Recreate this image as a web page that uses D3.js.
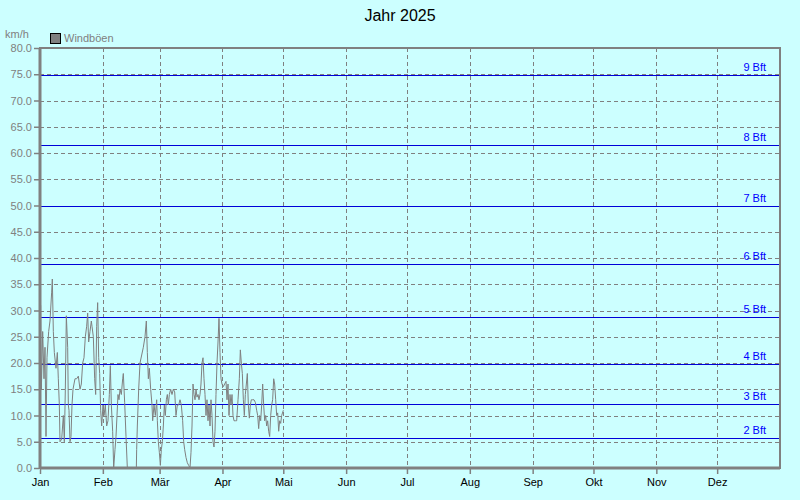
<!DOCTYPE html>
<html><head><meta charset="utf-8">
<script src="https://cdn.jsdelivr.net/npm/d3@7"></script>
<style>html,body{margin:0;padding:0;background:#ccffff;}svg{display:block;}</style>
</head><body>
<script>
const title = "Jahr 2025";
const unitLabel = "km/h";
const seriesName = "Windböen";
const monthLabels = ["Jan","Feb","Mär","Apr","Mai","Jun","Jul","Aug","Sep","Okt","Nov","Dez"];
const monthStarts = [0,31,59,90,120,151,181,212,243,273,304,334];
const yTicks = [0,5,10,15,20,25,30,35,40,45,50,55,60,65,70,75,80];
const bftLabels = ["2 Bft","3 Bft","4 Bft","5 Bft","6 Bft","7 Bft","8 Bft","9 Bft"];
const bftValues = [5.8,12.2,19.8,28.8,38.8,50.0,61.5,74.9];
const days = [0.33,0.66,0.99,1.32,1.97,2.47,2.96,3.45,4.27,4.93,5.75,6.08,6.58,7.07,7.89,8.55,9.04,9.54,9.87,10.69,11.51,12.0,12.5,12.99,13.65,13.98,14.3,14.8,15.29,15.78,16.28,16.77,17.26,18.09,18.91,19.73,20.39,21.05,21.7,22.36,23.02,23.51,24.0,24.66,25.32,25.65,26.31,26.96,27.46,27.95,28.44,28.94,29.43,29.92,30.42,31.08,31.57,32.23,32.88,33.54,34.2,34.69,35.19,35.84,36.34,36.99,37.49,37.98,38.47,38.97,39.46,40.12,40.78,41.1,41.76,42.42,43.08,45.22,47.52,47.68,48.01,48.67,49.33,50.97,51.79,52.45,52.94,53.44,53.93,54.59,55.25,55.57,56.23,56.89,57.55,57.88,58.37,58.86,59.36,59.85,60.34,60.84,61.33,61.82,62.32,62.81,63.3,63.8,64.45,65.11,65.77,66.43,67.08,67.74,68.4,69.06,69.71,70.37,70.87,71.36,72.02,72.67,73.33,73.99,74.48,74.98,75.47,75.96,76.46,76.95,77.44,77.94,78.43,78.92,79.41,79.91,80.4,80.89,81.39,81.88,82.37,82.87,83.36,83.85,84.35,84.84,85.33,85.83,86.32,86.81,87.31,87.8,88.29,88.79,89.28,89.77,90.43,91.09,91.75,92.24,92.73,93.23,93.72,94.21,94.71,95.2,95.69,96.35,97.01,97.67,98.32,98.82,99.31,99.8,100.3,100.79,101.28,101.78,102.27,102.76,103.26,103.75,104.24,104.9,105.56,106.22,106.87,107.37,107.86,108.35,108.85,109.34,109.83,110.33,110.82,111.31,111.81,112.3,112.79,113.29,113.78,114.27,114.76,115.26,115.75,116.25,116.74,117.23,117.73,118.22,118.71,119.2,120.03];
const gusts = [31,15,20,26,17,23,6,21,26,28,33.5,36,26,22,19,22,17,12,5,5.5,10,5,15,29,23,12,11,5,6,12,15,16,17,17,17.5,15,16,20,21,25,27,29.5,24,26,28,27,25,17,14,27,31.5,21,18,11,8,12,10,12,8,9,14,19.5,12,7,0,3.5,6,10,14,13,15,14,17,18,12.5,6,0,0,0,3.5,8,15,20,23,25,28,22,17,19,15,12,9,12,10,13,9,5,3,0.5,3.5,5,8,12,10,13,14,12,14,15,14,15,14.5,10,12,12,13,12,9,5,3.5,2,1,0.5,0,3,8,16,14,13,15,13.5,14,13,14,16,20,21,17,14,10,13,9,12,8,13,10,5,4,7,14,20,24,28.5,22,17,16,15.5,16,16.5,13,16,10,14,12,14,10,9,9,9,13,17,22.5,20,18,13,10,14,16,18,12,9.5,12,13,13,13,12.5,11,10,7.5,10,9,12,16,12,9,10,8,9,7,6,10,12,13,17,16,13,10,10.5,7,9,8.5,10,11];

const W = 800, H = 500;
const m = {left:40, right:780, top:48, bottom:468};
const font = "'Liberation Sans', Arial, sans-serif";
const svg = d3.select("body").append("svg").attr("width", W).attr("height", H)
  .style("background", "#ccffff");

const x = d3.scaleLinear().domain([0,365]).range([m.left, m.right]);
const y = d3.scaleLinear().domain([0,80]).range([m.bottom, m.top]);

// horizontal dashed grid
svg.append("g").selectAll("line").data(yTicks.filter(v => v > 0 && v < 80)).join("line")
  .attr("x1", m.left).attr("x2", m.right)
  .attr("y1", d => Math.round(y(d)) + 0.5).attr("y2", d => Math.round(y(d)) + 0.5)
  .attr("stroke", "#808080").attr("stroke-dasharray", "4,3");
// vertical dashed grid
svg.append("g").selectAll("line").data(monthStarts.slice(1)).join("line")
  .attr("x1", d => Math.round(x(d)) + 0.5).attr("x2", d => Math.round(x(d)) + 0.5)
  .attr("y1", m.top).attr("y2", m.bottom)
  .attr("stroke", "#808080").attr("stroke-dasharray", "4,3");

// Beaufort lines
const bft = svg.append("g");
bft.selectAll("line").data(bftValues).join("line")
  .attr("x1", m.left).attr("x2", m.right)
  .attr("y1", d => Math.round(y(d)) + 0.5).attr("y2", d => Math.round(y(d)) + 0.5)
  .attr("stroke", "#0000d8").attr("stroke-width", 1);
bft.selectAll("text").data(bftValues).join("text")
  .attr("x", 766).attr("y", d => Math.round(y(d)) - 4)
  .attr("text-anchor", "end").attr("fill", "#0000ff")
  .style("font", "11px " + font)
  .text((d, i) => bftLabels[i]);

// data line
const line = d3.line().x((d, i) => x(days[i])).y(d => y(d));
svg.append("path").datum(gusts).attr("d", line)
  .attr("fill", "none").attr("stroke", "#808080").attr("stroke-width", 1);

// frame
svg.append("rect").attr("x", m.left).attr("y", m.top)
  .attr("width", m.right - m.left).attr("height", m.bottom - m.top)
  .attr("fill", "none").attr("stroke", "#808080").attr("stroke-width", 2);
svg.append("line").attr("x1", m.left).attr("x2", m.left).attr("y1", m.top).attr("y2", m.bottom + 1)
  .attr("stroke", "#808080").attr("stroke-width", 3);
svg.append("line").attr("x1", m.left).attr("x2", m.right).attr("y1", m.bottom).attr("y2", m.bottom)
  .attr("stroke", "#808080").attr("stroke-width", 3);

// y axis
const yAxis = d3.axisLeft(y).tickValues(yTicks).tickFormat(d3.format(".1f")).tickSize(5).tickPadding(2);
const gy = svg.append("g").attr("transform", `translate(${m.left - 1},0)`).call(yAxis);
gy.select(".domain").remove();
gy.selectAll("line").attr("stroke", "#808080").attr("stroke-width", 1.5);
gy.selectAll("text").attr("fill", "#808080").style("font", "11px " + font);

// x axis
const xAxis = d3.axisBottom(x).tickValues(monthStarts).tickFormat((d, i) => monthLabels[i]).tickSize(5).tickPadding(4);
const gx = svg.append("g").attr("transform", `translate(0,${m.bottom + 1})`).call(xAxis);
gx.select(".domain").remove();
gx.selectAll("line").attr("stroke", "#808080").attr("stroke-width", 1.5);
gx.selectAll("text").attr("fill", "#000").style("font", "11px " + font);

// labels
svg.append("text").attr("x", W / 2).attr("y", 21).attr("text-anchor", "middle")
  .attr("fill", "#000").style("font", "16px " + font).text(title);
svg.append("text").attr("x", 5).attr("y", 38).attr("fill", "#808080")
  .style("font", "11px " + font).text(unitLabel);
svg.append("rect").attr("x", 50.5).attr("y", 33.5).attr("width", 10).attr("height", 10)
  .attr("fill", "#808080").attr("stroke", "#000");
svg.append("text").attr("x", 64).attr("y", 42).attr("fill", "#808080")
  .style("font", "11px " + font).text(seriesName);
</script>
</body></html>
